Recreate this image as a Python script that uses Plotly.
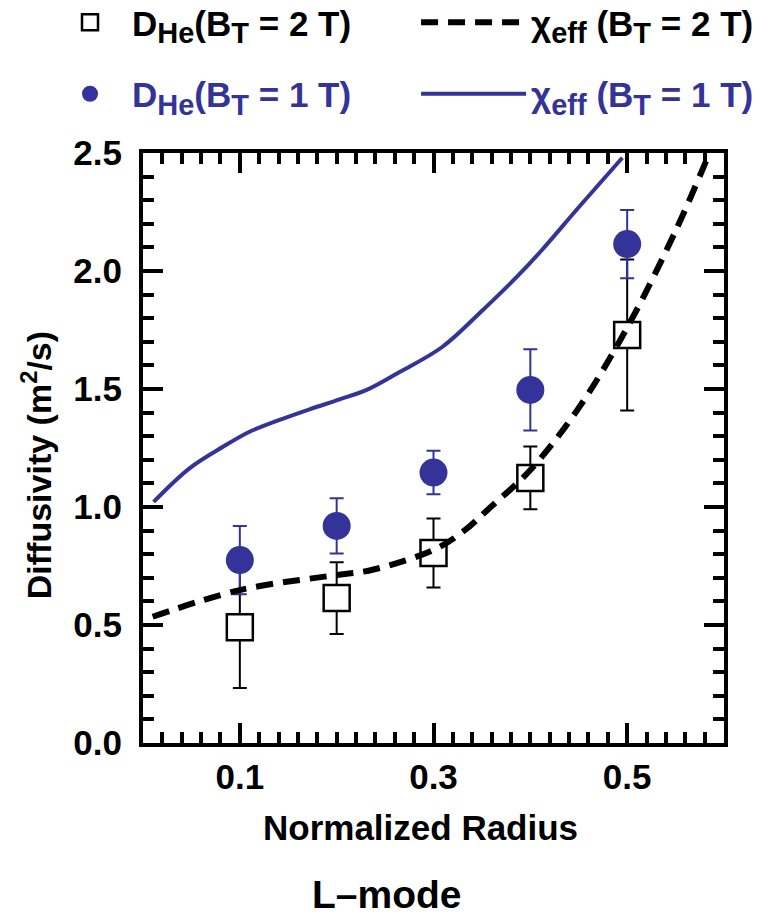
import plotly.graph_objects as go

# ---- data ----
radius_pts = [0.1, 0.2, 0.3, 0.4, 0.5]
d_he_2T = [0.49, 0.614, 0.805, 1.123, 1.729]
d_he_2T_err = [0.257, 0.152, 0.146, 0.133, 0.32]
d_he_1T = [0.775, 0.92, 1.146, 1.496, 2.114]
d_he_1T_err = [0.145, 0.117, 0.092, 0.172, 0.145]

chi_1T_x = [0.011, 0.048, 0.083, 0.110, 0.141, 0.172, 0.203, 0.231, 0.265, 0.309,
            0.351, 0.386, 0.412, 0.45, 0.495]
chi_1T_y = [1.022, 1.164, 1.256, 1.319, 1.369, 1.414, 1.456, 1.496, 1.572, 1.678,
            1.835, 1.975, 2.089, 2.27, 2.48]

chi_2T_x = [0.010, 0.10, 0.20, 0.236, 0.30, 0.33, 0.358, 0.40, 0.45, 0.50, 0.55, 0.585]
chi_2T_y = [0.535, 0.648, 0.712, 0.733, 0.818, 0.894, 0.996, 1.157, 1.42, 1.76, 2.17, 2.50]

x_tickvals = [0.1, 0.3, 0.5]
y_tickvals = [0.0, 0.5, 1.0, 1.5, 2.0, 2.5]

BLUE = "#333399"
SANS = "Liberation Sans, Arial, Helvetica, sans-serif"


def sub(s, px=29):
    return f"<sub><span style='font-size:{px}px'>{s}</span></sub>"


fig = go.Figure()

fig.add_trace(go.Scatter(
    x=radius_pts, y=d_he_2T, mode="markers",
    name=f"D{sub('He')}(B{sub('T')} = 2 T)",
    marker=dict(symbol="square", size=26, color="white", line=dict(color="black", width=2.5)),
    error_y=dict(type="data", array=d_he_2T_err, color="black", thickness=2, width=7),
    legend="legend", legendgroup="a",
))
fig.add_trace(go.Scatter(
    x=radius_pts, y=d_he_1T, mode="markers",
    name=f"<span style='color:{BLUE}'>D{sub('He')}(B{sub('T')} = 1 T)</span>",
    marker=dict(symbol="circle", size=28, color=BLUE),
    error_y=dict(type="data", array=d_he_1T_err, color=BLUE, thickness=2, width=7),
    legend="legend", legendgroup="b",
))
fig.add_trace(go.Scatter(
    x=chi_2T_x, y=chi_2T_y, mode="lines", line_shape="spline",
    name=f"χ{sub('eff')} (B{sub('T')} = 2 T)",
    line=dict(color="black", width=6, dash="17px,10px"),
    legend="legend2", legendgroup="c",
))
fig.add_trace(go.Scatter(
    x=chi_1T_x, y=chi_1T_y, mode="lines", line_shape="spline",
    name=f"<span style='color:{BLUE}'>χ{sub('eff')} (B{sub('T')} = 1 T)</span>",
    line=dict(color=BLUE, width=4),
    legend="legend2", legendgroup="d",
))

axis_common = dict(
    showgrid=False, zeroline=False, showline=True, linecolor="black", linewidth=4,
    mirror="ticks", ticks="inside", ticklen=20, tickwidth=4, tickcolor="black",
    tickfont=dict(family=SANS, size=35, color="black", weight="bold"),
)

fig.update_xaxes(range=[0, 0.6], tickvals=x_tickvals, tickformat=".1f",
                 ticklabelstandoff=0,
                 minor=dict(dtick=0.02, tick0=0, ticks="inside", ticklen=11, tickwidth=4,
                            tickcolor="black"),
                 **axis_common)
fig.update_yaxes(range=[0, 2.5], tickvals=y_tickvals, tickformat=".1f",
                 ticklabelstandoff=10,
                 minor=dict(dtick=0.1, tick0=0, ticks="inside", ticklen=11, tickwidth=4,
                            tickcolor="black"),
                 **axis_common)

legend_common = dict(
    xref="paper", yref="paper", yanchor="top", xanchor="left",
    bgcolor="rgba(0,0,0,0)", tracegroupgap=23,
    font=dict(family=SANS, size=35, color="black", weight="bold"),
)

fig.update_layout(
    width=774, height=917,
    margin=dict(l=143, r=50, t=153, b=174, autoexpand=False),
    plot_bgcolor="white", paper_bgcolor="white",
    legend=dict(x=-0.1635, y=1.2712, itemwidth=74, **legend_common),
    legend2=dict(x=0.47, y=1.2712, itemwidth=105, **legend_common),
    annotations=[
        dict(text="Normalized Radius", xref="paper", yref="paper", x=0.4768, y=-0.1424,
             xanchor="center", yanchor="middle", showarrow=False,
             font=dict(family=SANS, size=35, color="black", weight="bold")),
        dict(text="Diffusivity (m<sup>2</sup>/s)", xref="paper", yref="paper",
             x=-0.184, y=0.471, textangle=-90, xanchor="center", yanchor="middle",
             showarrow=False,
             font=dict(family=SANS, size=34, color="black", weight="bold")),
        dict(text="L–mode", xref="paper", yref="paper", x=0.42, y=-0.2576,
             xanchor="center", yanchor="middle", showarrow=False,
             font=dict(family=SANS, size=39, color="black", weight="bold")),
    ],
)

fig.write_html("out.html", config={"displayModeBar": False},
               post_script="document.body.style.margin='0';")
